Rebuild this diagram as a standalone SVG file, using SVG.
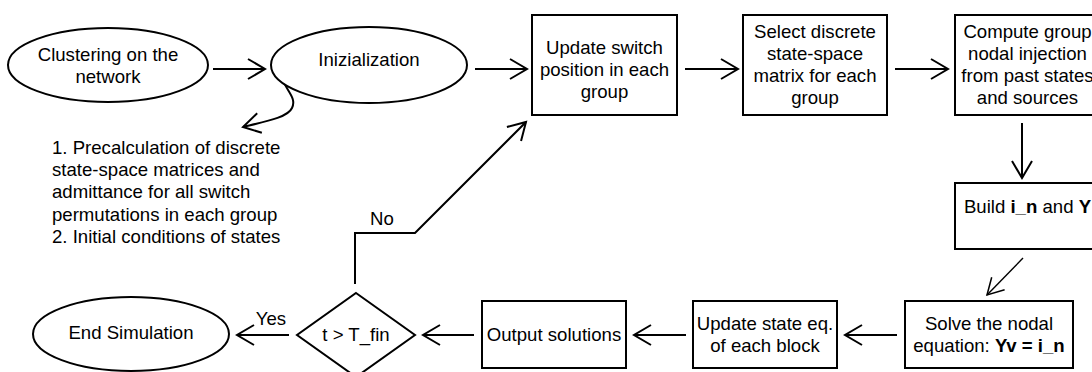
<svg xmlns="http://www.w3.org/2000/svg" width="1092" height="372" viewBox="0 0 1092 372">
  <style>
    .shape { fill: #ffffff; stroke: #000000; stroke-width: 2; }
    .edge { fill: none; stroke: #000000; stroke-width: 2; }
    .thin { fill: none; stroke: #000000; stroke-width: 1.4; }
    text { font-family: "Liberation Sans", Arial, Helvetica, sans-serif; font-size: 18.6px; fill: #000000; }
    .c { text-anchor: middle; }
    .b { font-weight: bold; }
  </style>
  <defs>
    <marker id="open" markerUnits="userSpaceOnUse" markerWidth="24" markerHeight="24" viewBox="-20 -12 24 24" refX="0" refY="0" orient="auto">
      <path d="M -17 -10 L 0 0 L -17 10" fill="none" stroke="#000000" stroke-width="2"/>
    </marker>
    <marker id="openThin" markerUnits="userSpaceOnUse" markerWidth="24" markerHeight="24" viewBox="-20 -12 24 24" refX="0" refY="0" orient="auto">
      <path d="M -16 -9 L 0 0 L -16 9" fill="none" stroke="#000000" stroke-width="1.5"/>
    </marker>
  </defs>

  <rect width="1092" height="372" fill="#ffffff"/>

  <!-- connectors -->
  <g id="connectors">
    <line class="edge" x1="213" y1="69" x2="265" y2="69" marker-end="url(#open)"/>
    <line class="edge" x1="475" y1="69" x2="527" y2="69" marker-end="url(#open)"/>
    <line class="edge" x1="685" y1="69" x2="738" y2="69" marker-end="url(#open)"/>
    <line class="edge" x1="895" y1="69" x2="948" y2="69" marker-end="url(#open)"/>
    <line class="edge" x1="1022" y1="123" x2="1022" y2="178" marker-end="url(#open)"/>
    <line class="thin" x1="1023" y1="258" x2="987" y2="295" marker-end="url(#openThin)"/>
    <line class="edge" x1="897" y1="335" x2="845" y2="335" marker-end="url(#open)"/>
    <line class="edge" x1="686" y1="335" x2="634" y2="335" marker-end="url(#open)"/>
    <line class="edge" x1="474" y1="335" x2="423" y2="335" marker-end="url(#open)"/>
    <line class="edge" x1="289" y1="335" x2="237" y2="335" marker-end="url(#open)"/>
    <path class="edge" d="M 355 284 L 355 233 L 415 233 L 526 122" marker-end="url(#open)"/>
    <path class="edge" d="M 306 64 C 290 66, 279 70, 283 80 C 286 90, 297 98, 292 108 C 288 117, 268 121, 243 127" marker-end="url(#open)"/>
    <text class="c" x="382" y="225">No</text>
    <text class="c" x="271" y="325">Yes</text>
  </g>

  <g id="clustering">
    <ellipse class="shape" cx="108" cy="65" rx="100" ry="37"/>
    <text class="c" x="108" y="61">Clustering on the</text>
    <text class="c" x="108" y="83">network</text>
  </g>

  <g id="initialization">
    <ellipse class="shape" cx="369" cy="65" rx="98" ry="38"/>
    <text class="c" x="369" y="66">Inizialization</text>
  </g>

  <g id="init-notes">
    <text x="52" y="154">1. Precalculation of discrete</text>
    <text x="52" y="176">state-space matrices and</text>
    <text x="52" y="198">admittance for all switch</text>
    <text x="52" y="221">permutations in each group</text>
    <text x="52" y="243">2. Initial conditions of states</text>
  </g>

  <g id="update-switch">
    <rect class="shape" x="532" y="15" width="145" height="100"/>
    <text class="c" x="604.5" y="54">Update switch</text>
    <text class="c" x="604.5" y="76">position in each</text>
    <text class="c" x="604.5" y="98">group</text>
  </g>

  <g id="select-matrix">
    <rect class="shape" x="743" y="15" width="144" height="100"/>
    <text class="c" x="815" y="38">Select discrete</text>
    <text class="c" x="815" y="60">state-space</text>
    <text class="c" x="815" y="82">matrix for each</text>
    <text class="c" x="815" y="104">group</text>
  </g>

  <g id="compute-injection">
    <rect class="shape" x="955" y="15" width="145" height="100"/>
    <text class="c" x="1027.5" y="38">Compute group</text>
    <text class="c" x="1027.5" y="60">nodal injection</text>
    <text class="c" x="1027.5" y="82">from past states</text>
    <text class="c" x="1027.5" y="104">and sources</text>
  </g>

  <g id="build">
    <rect class="shape" x="955" y="183" width="145" height="66"/>
    <text class="c" x="1027.5" y="213">Build <tspan class="b">i_n</tspan> and <tspan class="b">Y</tspan></text>
  </g>

  <g id="solve">
    <rect class="shape" x="905" y="301" width="168" height="67"/>
    <text class="c" x="989" y="330">Solve the nodal</text>
    <text class="c" x="989" y="352">equation: <tspan class="b">Yv = i_n</tspan></text>
  </g>

  <g id="update-state">
    <rect class="shape" x="693" y="301" width="144" height="67"/>
    <text class="c" x="765" y="330">Update state eq.</text>
    <text class="c" x="765" y="352">of each block</text>
  </g>

  <g id="output">
    <rect class="shape" x="482" y="301" width="144" height="67"/>
    <text class="c" x="554" y="341">Output solutions</text>
  </g>

  <g id="decision">
    <polygon class="shape" points="356,293 415,335 356,377 297,335"/>
    <text class="c" x="356" y="341">t &gt; T_fin</text>
  </g>

  <g id="end">
    <ellipse class="shape" cx="131" cy="334" rx="98" ry="37"/>
    <text class="c" x="131" y="339">End Simulation</text>
  </g>
</svg>
